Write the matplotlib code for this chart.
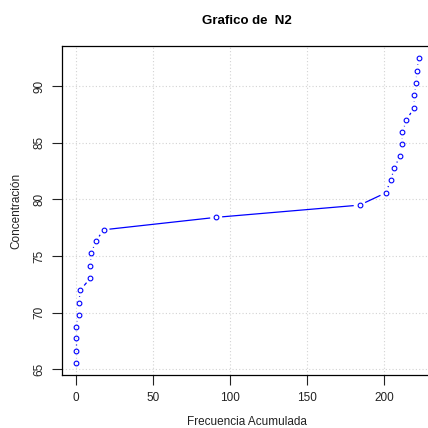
import numpy as np
import matplotlib
matplotlib.use("Agg")
import matplotlib.pyplot as plt

# cumulative frequency vs concentration
frec_acum = [0, 0, 0, 0, 2, 2, 3, 9.5, 9.5, 10, 13, 18, 91, 184,
             201, 204, 206.5, 210, 211.3, 211.7, 214.3, 219.2, 219.4, 220.5, 221, 222.3]
concentracion = [65.58, 66.64, 67.74, 68.73, 69.79, 70.88, 72.0, 73.06, 74.14, 75.24,
                 76.3, 77.32, 78.42, 79.5, 80.59, 81.68, 82.77, 83.83, 84.86, 85.94,
                 87.0, 88.09, 89.18, 90.27, 91.35, 92.45]
xticks = [0, 50, 100, 150, 200]
yticks = [65, 70, 75, 80, 85, 90]

plt.rcParams.update({"font.family": "Liberation Sans", "font.size": 8.5})
TXT = "#222222"; BLUE = "#0000FF"

fig = plt.figure(figsize=(4.28, 4.28), dpi=100)
W = 428.0
ax = fig.add_axes([62 / W, (W - 375) / W, 370.5 / W, 328.8 / W])

x = np.array(frec_acum, float); y = np.array(concentracion, float)
dx = 0.04 * (x.max() - x.min()); dy = 0.04 * (y.max() - y.min())
ax.set_xlim(x.min() - dx, x.max() + dx)
ax.set_ylim(y.min() - dy, y.max() + dy)

ax.set_xticks(xticks); ax.set_yticks(yticks)
ax.grid(True, color="#D3D3D3", ls=(0, (1, 2)), lw=0.8)
ax.set_axisbelow(True)
for s in ax.spines.values():
    s.set_color("black"); s.set_linewidth(0.9)
ax.spines["right"].set_visible(False)
ax.tick_params(direction="out", length=7, width=0.8, colors=TXT, labelsize=8.5, pad=5)
for lab in ax.get_yticklabels():
    lab.set_rotation(90); lab.set_va("center")

# R type="b": line segments with gaps around the points
pts = ax.transData.transform(np.column_stack([x, y]))
gap = 6.0
inv = ax.transData.inverted()
for p, q in zip(pts[:-1], pts[1:]):
    d = q - p; n = np.hypot(*d)
    if n <= 2 * gap:
        continue
    u = d / n
    seg = inv.transform(np.array([p + gap * u, q - gap * u]))
    ax.plot(seg[:, 0], seg[:, 1], color=BLUE, lw=0.9, solid_capstyle="butt", zorder=3)

ax.plot(x, y, ls="none", marker="o", ms=3.4, mfc="none", mec=BLUE, mew=0.8, zorder=4)

ax.set_title("Grafico de  N2", fontsize=9.5, fontweight="bold", color="black", pad=16)
ax.set_xlabel("Frecuencia Acumulada", color=TXT, labelpad=9)
ax.set_ylabel("Concentración", color=TXT, labelpad=8)

fig.savefig("out.png", dpi=100, facecolor="white")
